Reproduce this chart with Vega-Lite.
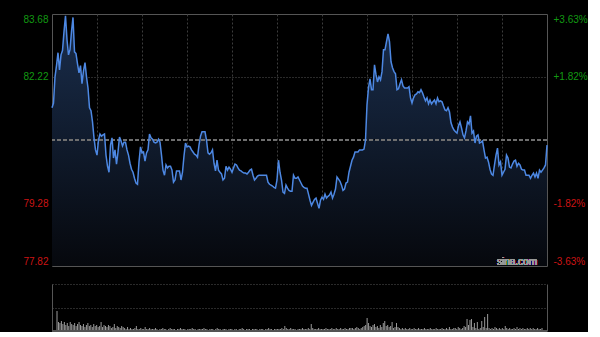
{
  "$schema": "https://vega.github.io/schema/vega-lite/v6.json",
  "background": "#000000",
  "padding": {"left": 22, "top": 12, "right": 0, "bottom": 0},
  "spacing": 16,
  "config": {
    "view": {"stroke": "#555555", "strokeWidth": 1},
    "axis": {"labelFont": "Liberation Sans", "labelFontSize": 10}
  },
  "data": {"values": [
{"m":0,"p":81.50,"v":20},{"m":1,"p":81.61,"v":9},{"m":2,"p":82.22,"v":8},{"m":3,"p":82.48,"v":10},{"m":4,"p":82.78,"v":7},{"m":5,"p":82.38,"v":9},{"m":6,"p":82.73,"v":6},{"m":7,"p":82.83,"v":8},{"m":8,"p":83.27,"v":5},{"m":9,"p":83.64,"v":9},
{"m":10,"p":83.08,"v":7},{"m":11,"p":82.73,"v":6},{"m":12,"p":82.85,"v":8},{"m":13,"p":83.27,"v":5},{"m":14,"p":83.60,"v":7},{"m":15,"p":82.80,"v":9},{"m":16,"p":82.76,"v":6},{"m":17,"p":82.52,"v":5},{"m":18,"p":82.31,"v":7},{"m":19,"p":82.48,"v":4},
{"m":20,"p":82.06,"v":6},{"m":21,"p":82.36,"v":8},{"m":22,"p":82.55,"v":5},{"m":23,"p":82.22,"v":6},{"m":24,"p":81.96,"v":4},{"m":25,"p":81.50,"v":7},{"m":26,"p":81.43,"v":5},{"m":27,"p":81.17,"v":6},{"m":28,"p":80.80,"v":4},{"m":29,"p":80.52,"v":5},
{"m":30,"p":80.40,"v":9},{"m":31,"p":80.75,"v":4},{"m":32,"p":80.89,"v":6},{"m":33,"p":80.84,"v":5},{"m":34,"p":80.87,"v":4},{"m":35,"p":80.89,"v":6},{"m":36,"p":80.40,"v":5},{"m":37,"p":80.14,"v":3},{"m":38,"p":80.00,"v":4},{"m":39,"p":80.63,"v":7},
{"m":40,"p":80.80,"v":3},{"m":41,"p":80.33,"v":5},{"m":42,"p":80.52,"v":4},{"m":43,"p":80.19,"v":3},{"m":44,"p":80.47,"v":5},{"m":45,"p":80.82,"v":4},{"m":46,"p":80.73,"v":3},{"m":47,"p":80.61,"v":2},{"m":48,"p":80.70,"v":4},{"m":49,"p":80.70,"v":2},
{"m":50,"p":80.52,"v":3},{"m":51,"p":80.40,"v":2},{"m":52,"p":80.21,"v":2},{"m":53,"p":80.07,"v":3},{"m":54,"p":80.00,"v":5},{"m":55,"p":79.86,"v":2},{"m":56,"p":79.75,"v":2},{"m":57,"p":79.72,"v":3},{"m":58,"p":80.24,"v":2},{"m":59,"p":80.59,"v":2},
{"m":60,"p":80.45,"v":4},{"m":61,"p":80.47,"v":2},{"m":62,"p":80.26,"v":2},{"m":63,"p":80.45,"v":3},{"m":64,"p":80.52,"v":2},{"m":65,"p":80.89,"v":2},{"m":66,"p":80.80,"v":2},{"m":67,"p":80.77,"v":3},{"m":68,"p":80.70,"v":2},{"m":69,"p":80.68,"v":1},
{"m":70,"p":80.70,"v":2},{"m":71,"p":80.77,"v":2},{"m":72,"p":80.70,"v":3},{"m":73,"p":80.40,"v":2},{"m":74,"p":80.05,"v":2},{"m":75,"p":79.93,"v":1},{"m":76,"p":80.17,"v":2},{"m":77,"p":80.10,"v":3},{"m":78,"p":80.14,"v":2},{"m":79,"p":80.14,"v":2},
{"m":80,"p":80.05,"v":2},{"m":81,"p":79.77,"v":1},{"m":82,"p":79.82,"v":2},{"m":83,"p":80.03,"v":2},{"m":84,"p":80.03,"v":3},{"m":85,"p":80.03,"v":2},{"m":86,"p":79.82,"v":2},{"m":87,"p":80.00,"v":2},{"m":88,"p":80.38,"v":1},{"m":89,"p":80.68,"v":2},
{"m":90,"p":80.59,"v":2},{"m":91,"p":80.61,"v":2},{"m":92,"p":80.59,"v":3},{"m":93,"p":80.52,"v":2},{"m":94,"p":80.47,"v":2},{"m":95,"p":80.42,"v":1},{"m":96,"p":80.40,"v":2},{"m":97,"p":80.35,"v":2},{"m":98,"p":80.63,"v":2},{"m":99,"p":80.84,"v":2},
{"m":100,"p":80.94,"v":3},{"m":101,"p":80.94,"v":2},{"m":102,"p":80.94,"v":2},{"m":103,"p":80.75,"v":1},{"m":104,"p":80.45,"v":2},{"m":105,"p":80.42,"v":2},{"m":106,"p":80.45,"v":2},{"m":107,"p":80.52,"v":1},{"m":108,"p":80.21,"v":2},{"m":109,"p":80.03,"v":3},
{"m":110,"p":80.28,"v":2},{"m":111,"p":80.05,"v":2},{"m":112,"p":80.00,"v":1},{"m":113,"p":79.96,"v":2},{"m":114,"p":79.82,"v":2},{"m":115,"p":79.86,"v":2},{"m":116,"p":80.14,"v":1},{"m":117,"p":80.05,"v":2},{"m":118,"p":80.12,"v":2},{"m":119,"p":80.07,"v":2},
{"m":120,"p":80.00,"v":1},{"m":121,"p":80.10,"v":2},{"m":122,"p":80.19,"v":2},{"m":123,"p":80.17,"v":1},{"m":124,"p":80.10,"v":2},{"m":125,"p":80.05,"v":2},{"m":126,"p":80.03,"v":3},{"m":127,"p":80.00,"v":2},{"m":128,"p":79.98,"v":1},{"m":129,"p":79.98,"v":2},
{"m":130,"p":79.96,"v":2},{"m":131,"p":80.00,"v":2},{"m":132,"p":80.05,"v":1},{"m":133,"p":80.07,"v":2},{"m":134,"p":79.93,"v":2},{"m":135,"p":79.82,"v":2},{"m":136,"p":79.86,"v":2},{"m":137,"p":79.91,"v":1},{"m":138,"p":79.93,"v":2},{"m":139,"p":79.93,"v":2},
{"m":140,"p":79.93,"v":2},{"m":141,"p":79.93,"v":1},{"m":142,"p":79.93,"v":2},{"m":143,"p":79.93,"v":2},{"m":144,"p":79.77,"v":3},{"m":145,"p":79.72,"v":2},{"m":146,"p":79.70,"v":2},{"m":147,"p":79.68,"v":1},{"m":148,"p":79.65,"v":2},{"m":149,"p":79.63,"v":2},
{"m":150,"p":79.82,"v":2},{"m":151,"p":80.28,"v":2},{"m":152,"p":80.00,"v":2},{"m":153,"p":79.82,"v":3},{"m":154,"p":79.54,"v":2},{"m":155,"p":79.51,"v":5},{"m":156,"p":79.70,"v":3},{"m":157,"p":79.63,"v":2},{"m":158,"p":79.58,"v":2},{"m":159,"p":79.56,"v":3},
{"m":160,"p":79.56,"v":2},{"m":161,"p":79.93,"v":2},{"m":162,"p":79.86,"v":2},{"m":163,"p":79.86,"v":1},{"m":164,"p":79.89,"v":2},{"m":165,"p":79.82,"v":2},{"m":166,"p":79.75,"v":2},{"m":167,"p":79.68,"v":3},{"m":168,"p":79.65,"v":2},{"m":169,"p":79.63,"v":2},
{"m":170,"p":79.63,"v":2},{"m":171,"p":79.49,"v":3},{"m":172,"p":79.35,"v":2},{"m":173,"p":79.23,"v":7},{"m":174,"p":79.30,"v":3},{"m":175,"p":79.37,"v":2},{"m":176,"p":79.40,"v":2},{"m":177,"p":79.28,"v":2},{"m":178,"p":79.16,"v":3},{"m":179,"p":79.35,"v":2},
{"m":180,"p":79.42,"v":2},{"m":181,"p":79.37,"v":2},{"m":182,"p":79.49,"v":2},{"m":183,"p":79.40,"v":3},{"m":184,"p":79.44,"v":2},{"m":185,"p":79.47,"v":2},{"m":186,"p":79.54,"v":2},{"m":187,"p":79.40,"v":3},{"m":188,"p":79.49,"v":2},{"m":189,"p":79.61,"v":2},
{"m":190,"p":79.89,"v":3},{"m":191,"p":79.84,"v":2},{"m":192,"p":79.79,"v":2},{"m":193,"p":79.70,"v":3},{"m":194,"p":79.58,"v":2},{"m":195,"p":79.61,"v":2},{"m":196,"p":79.75,"v":3},{"m":197,"p":79.77,"v":2},{"m":198,"p":80.00,"v":2},{"m":199,"p":80.14,"v":3},
{"m":200,"p":80.28,"v":3},{"m":201,"p":80.35,"v":3},{"m":202,"p":80.47,"v":2},{"m":203,"p":80.47,"v":3},{"m":204,"p":80.47,"v":4},{"m":205,"p":80.52,"v":3},{"m":206,"p":80.52,"v":2},{"m":207,"p":80.52,"v":3},{"m":208,"p":80.54,"v":4},{"m":209,"p":80.75,"v":5},
{"m":210,"p":81.57,"v":6},{"m":211,"p":81.96,"v":13},{"m":212,"p":82.17,"v":8},{"m":213,"p":81.92,"v":5},{"m":214,"p":81.92,"v":4},{"m":215,"p":82.50,"v":6},{"m":216,"p":82.27,"v":7},{"m":217,"p":82.10,"v":4},{"m":218,"p":82.22,"v":5},{"m":219,"p":82.15,"v":3},
{"m":220,"p":82.34,"v":6},{"m":221,"p":82.85,"v":4},{"m":222,"p":82.85,"v":8},{"m":223,"p":83.04,"v":10},{"m":224,"p":83.22,"v":5},{"m":225,"p":83.04,"v":6},{"m":226,"p":82.57,"v":4},{"m":227,"p":82.43,"v":5},{"m":228,"p":82.34,"v":9},{"m":229,"p":82.29,"v":3},
{"m":230,"p":81.92,"v":4},{"m":231,"p":81.94,"v":8},{"m":232,"p":82.06,"v":4},{"m":233,"p":82.15,"v":3},{"m":234,"p":82.01,"v":2},{"m":235,"p":81.96,"v":3},{"m":236,"p":81.96,"v":2},{"m":237,"p":81.96,"v":3},{"m":238,"p":81.99,"v":2},{"m":239,"p":81.73,"v":2},
{"m":240,"p":81.61,"v":3},{"m":241,"p":81.73,"v":2},{"m":242,"p":81.80,"v":2},{"m":243,"p":81.82,"v":3},{"m":244,"p":81.87,"v":2},{"m":245,"p":81.85,"v":2},{"m":246,"p":81.92,"v":3},{"m":247,"p":81.85,"v":2},{"m":248,"p":81.75,"v":2},{"m":249,"p":81.66,"v":2},
{"m":250,"p":81.73,"v":3},{"m":251,"p":81.59,"v":2},{"m":252,"p":81.68,"v":2},{"m":253,"p":81.59,"v":2},{"m":254,"p":81.64,"v":3},{"m":255,"p":81.68,"v":2},{"m":256,"p":81.59,"v":2},{"m":257,"p":81.73,"v":2},{"m":258,"p":81.64,"v":3},{"m":259,"p":81.66,"v":2},
{"m":260,"p":81.64,"v":2},{"m":261,"p":81.54,"v":2},{"m":262,"p":81.45,"v":3},{"m":263,"p":81.43,"v":2},{"m":264,"p":81.50,"v":2},{"m":265,"p":81.40,"v":3},{"m":266,"p":81.15,"v":2},{"m":267,"p":81.05,"v":4},{"m":268,"p":80.98,"v":2},{"m":269,"p":80.94,"v":2},
{"m":270,"p":80.91,"v":3},{"m":271,"p":81.08,"v":3},{"m":272,"p":81.17,"v":2},{"m":273,"p":81.03,"v":4},{"m":274,"p":80.87,"v":3},{"m":275,"p":80.80,"v":2},{"m":276,"p":80.96,"v":3},{"m":277,"p":81.17,"v":5},{"m":278,"p":81.12,"v":4},{"m":279,"p":81.31,"v":12},
{"m":280,"p":80.91,"v":6},{"m":281,"p":80.96,"v":11},{"m":282,"p":80.68,"v":12},{"m":283,"p":80.84,"v":4},{"m":284,"p":80.87,"v":8},{"m":285,"p":80.68,"v":3},{"m":286,"p":80.70,"v":9},{"m":287,"p":80.73,"v":2},{"m":288,"p":80.52,"v":3},{"m":289,"p":80.33,"v":10},
{"m":290,"p":80.35,"v":4},{"m":291,"p":80.24,"v":14},{"m":292,"p":80.07,"v":3},{"m":293,"p":79.96,"v":17},{"m":294,"p":79.93,"v":3},{"m":295,"p":80.17,"v":2},{"m":296,"p":80.40,"v":3},{"m":297,"p":80.56,"v":2},{"m":298,"p":80.17,"v":4},{"m":299,"p":80.24,"v":3},
{"m":300,"p":79.93,"v":2},{"m":301,"p":80.00,"v":3},{"m":302,"p":80.07,"v":2},{"m":303,"p":80.40,"v":3},{"m":304,"p":80.33,"v":2},{"m":305,"p":80.12,"v":5},{"m":306,"p":80.10,"v":3},{"m":307,"p":80.19,"v":2},{"m":308,"p":80.26,"v":3},{"m":309,"p":80.28,"v":2},
{"m":310,"p":80.14,"v":2},{"m":311,"p":80.21,"v":3},{"m":312,"p":80.17,"v":2},{"m":313,"p":80.07,"v":4},{"m":314,"p":80.05,"v":2},{"m":315,"p":80.05,"v":3},{"m":316,"p":79.93,"v":2},{"m":317,"p":79.93,"v":3},{"m":318,"p":79.93,"v":2},{"m":319,"p":79.86,"v":2},
{"m":320,"p":79.93,"v":3},{"m":321,"p":79.98,"v":2},{"m":322,"p":79.89,"v":3},{"m":323,"p":79.98,"v":2},{"m":324,"p":79.86,"v":3},{"m":325,"p":80.05,"v":2},{"m":326,"p":80.00,"v":2},{"m":327,"p":80.05,"v":3},{"m":328,"p":80.10,"v":2},{"m":329,"p":80.17,"v":2},
{"m":330,"p":80.63,"v":3}
  ]},
  "vconcat": [
    {
      "width": 495,
      "height": 252,
      "layer": [
        {
          "layer": [
            {
              "mark": {"type": "area", "color": {"gradient": "linear", "x1": 0, "y1": 0, "x2": 0, "y2": 1, "stops": [{"offset": 0, "color": "#1a2e4d"}, {"offset": 1, "color": "#06080d"}]}},
              "encoding": {
                "x": {"field": "m", "type": "quantitative", "scale": {"domain": [0, 330], "nice": false, "zero": false},
                      "axis": {"values": [30, 60, 90, 120, 150, 180, 210, 240, 270, 300], "labels": false, "ticks": false, "domain": false, "grid": true, "gridColor": "#3c3c3c", "gridDash": [2, 2], "title": null}},
                "y": {"field": "p", "type": "quantitative", "scale": {"domain": [77.82, 83.68], "nice": false, "zero": false},
                      "axis": {"orient": "left", "values": [77.82, 79.28, 82.22, 83.68], "format": ".2f", "labelFlush": true, "labelFlushOffset": 0, "ticks": false, "domain": false, "labelPadding": 4,
                               "labelColor": {"condition": {"test": "datum.value > 80.75", "value": "#129912"}, "value": "#cc1414"},
                               "grid": true, "gridColor": "#555555", "gridDash": [1, 2],
                               "gridOpacity": {"condition": {"test": "datum.value > 78 && datum.value < 83", "value": 1}, "value": 0},
                               "title": null}},
                "y2": {"datum": 77.82}
              }
            },
            {
              "mark": {"type": "rule", "color": "#707070", "strokeDash": [4, 2], "strokeWidth": 1},
              "encoding": {"y": {"datum": 80.75}}
            },
            {
              "mark": {"type": "text", "text": "sina.com", "align": "right", "baseline": "alphabetic", "dx": -10, "dy": -1, "color": "#9a9a9a", "font": "Liberation Sans", "fontSize": 10},
              "encoding": {"x": {"datum": 330}, "y": {"datum": 77.82}}
            }
          ]
        },
        {
          "mark": {"type": "line", "color": "#4d88e3", "strokeWidth": 1.5},
          "encoding": {
            "x": {"field": "m", "type": "quantitative", "scale": {"domain": [0, 330], "nice": false, "zero": false},
                  "axis": {"values": [30, 60, 90, 120, 150, 180, 210, 240, 270, 300], "labels": false, "ticks": false, "domain": false, "grid": true, "gridColor": "#3c3c3c", "gridDash": [2, 2], "title": null}},
            "y": {"field": "p", "type": "quantitative", "scale": {"domain": [77.82, 83.68], "nice": false, "zero": false},
                  "axis": {"orient": "right", "values": [77.82, 79.28, 82.22, 83.68],
                           "labelExpr": "(datum.value > 80.75 ? '+' : '-') + format(abs(datum.value - 80.75) / 80.75 * 100, '.2f') + '%'",
                           "labelFlush": true, "labelFlushOffset": 0, "ticks": false, "domain": false, "grid": false, "labelPadding": 6,
                           "labelColor": {"condition": {"test": "datum.value > 80.75", "value": "#129912"}, "value": "#cc1414"},
                           "title": null}}
          }
        }
      ],
      "resolve": {"scale": {"y": "independent"}}
    },
    {
      "width": 495,
      "height": 47,
      "view": {"stroke": null},
      "layer": [
        {
          "mark": {"type": "bar", "color": "#9a9a9a", "width": 1},
          "encoding": {
            "x": {"field": "m", "type": "quantitative", "scale": {"domain": [0, 330], "nice": false, "zero": false}, "axis": null},
            "y": {"field": "v", "type": "quantitative", "scale": {"domain": [0, 47], "nice": false},
                  "axis": {"orient": "left", "values": [23.5, 47], "grid": true, "gridColor": "#555555", "gridDash": [1, 2], "domain": true, "domainColor": "#555555", "ticks": false,
                           "labelExpr": "'83.68'", "labelColor": "#000000", "labelFlush": true, "labelFlushOffset": 0, "labelPadding": 4, "title": null}}
          }
        },
        {
          "mark": {"type": "rule", "color": "#555555", "strokeWidth": 1},
          "encoding": {
            "y": {"datum": 0, "scale": {"domain": [0, 47], "nice": false},
                  "axis": {"orient": "right", "domain": true, "domainColor": "#555555", "labels": false, "ticks": false, "grid": false, "title": null}}
          }
        }
      ],
      "resolve": {"scale": {"y": "independent"}}
    }
  ]
}
